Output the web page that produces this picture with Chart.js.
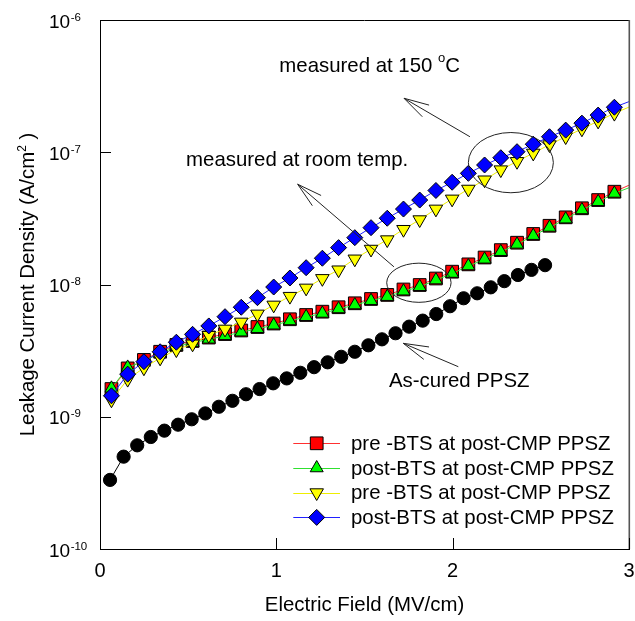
<!DOCTYPE html>
<html><head><meta charset="utf-8">
<script src="https://cdn.jsdelivr.net/npm/chart.js@4.4.1/dist/chart.umd.min.js"></script>
<style>html,body{margin:0;padding:0;background:#fff;overflow:hidden}#wrap{width:635px;height:621px}</style>
</head><body><div id="wrap"><canvas id="c" width="635" height="621"></canvas></div>
<script>
// ---------------- data ----------------
const xPostCmp = [0.065, 0.157, 0.249, 0.341, 0.433, 0.525, 0.617, 0.709, 0.801, 0.893, 0.985, 1.077, 1.169, 1.261, 1.353, 1.445, 1.537, 1.629, 1.721, 1.813, 1.905, 1.997, 2.089, 2.181, 2.273, 2.365, 2.457, 2.549, 2.641, 2.733, 2.825, 2.917, 3.009];
const preBtsRT = [1.62e-9, 2.32e-9, 2.69e-9, 3.10e-9, 3.49e-9, 3.74e-9, 3.97e-9, 4.22e-9, 4.49e-9, 4.77e-9, 5.07e-9, 5.46e-9, 5.88e-9, 6.23e-9, 6.73e-9, 7.21e-9, 7.77e-9, 8.34e-9, 9.17e-9, 9.91e-9, 1.11e-8, 1.25e-8, 1.42e-8, 1.60e-8, 1.82e-8, 2.07e-8, 2.41e-8, 2.78e-8, 3.22e-8, 3.77e-8, 4.35e-8, 5.03e-8, 5.70e-8];
const postBtsRT = [1.64e-9, 2.36e-9, 2.64e-9, 3.02e-9, 3.39e-9, 3.63e-9, 3.85e-9, 4.09e-9, 4.36e-9, 4.63e-9, 4.92e-9, 5.30e-9, 5.70e-9, 6.04e-9, 6.53e-9, 6.99e-9, 7.54e-9, 8.09e-9, 8.90e-9, 9.61e-9, 1.08e-8, 1.21e-8, 1.38e-8, 1.55e-8, 1.77e-8, 2.01e-8, 2.34e-8, 2.70e-8, 3.12e-8, 3.66e-8, 4.22e-8, 4.88e-8, 5.45e-8];
const preBts150 = [1.34e-9, 1.92e-9, 2.34e-9, 2.78e-9, 3.21e-9, 3.55e-9, 4.13e-9, 4.60e-9, 5.20e-9, 5.98e-9, 6.99e-9, 8.14e-9, 9.40e-9, 1.11e-8, 1.29e-8, 1.56e-8, 1.85e-8, 2.18e-8, 2.61e-8, 3.09e-8, 3.72e-8, 4.43e-8, 5.26e-8, 6.18e-8, 7.37e-8, 8.52e-8, 9.85e-8, 1.14e-7, 1.31e-7, 1.50e-7, 1.72e-7, 1.97e-7, 2.22e-7];
const postBts150 = [1.44e-9, 2.10e-9, 2.61e-9, 3.10e-9, 3.66e-9, 4.20e-9, 4.86e-9, 5.71e-9, 6.73e-9, 7.95e-9, 9.57e-9, 1.12e-8, 1.34e-8, 1.58e-8, 1.90e-8, 2.26e-8, 2.69e-8, 3.17e-8, 3.72e-8, 4.35e-8, 5.14e-8, 5.93e-8, 6.93e-8, 8.01e-8, 9.09e-8, 1.01e-7, 1.15e-7, 1.31e-7, 1.47e-7, 1.66e-7, 1.91e-7, 2.19e-7, 2.44e-7];
const xAsCured = [0.057, 0.134, 0.211, 0.288, 0.365, 0.443, 0.520, 0.597, 0.674, 0.751, 0.828, 0.905, 0.982, 1.059, 1.136, 1.214, 1.291, 1.368, 1.445, 1.522, 1.599, 1.676, 1.753, 1.830, 1.907, 1.985, 2.062, 2.139, 2.216, 2.293, 2.370, 2.447, 2.524];
const asCured = [3.33e-10, 4.99e-10, 6.08e-10, 7.03e-10, 7.85e-10, 8.71e-10, 9.57e-10, 1.06e-9, 1.19e-9, 1.32e-9, 1.48e-9, 1.62e-9, 1.79e-9, 1.95e-9, 2.15e-9, 2.37e-9, 2.58e-9, 2.84e-9, 3.10e-9, 3.47e-9, 3.85e-9, 4.28e-9, 4.80e-9, 5.33e-9, 5.98e-9, 6.85e-9, 7.87e-9, 8.58e-9, 9.52e-9, 1.06e-8, 1.18e-8, 1.29e-8, 1.40e-8];
const seriesLabels = ['pre -BTS at post-CMP PPSZ', 'post-BTS at post-CMP PPSZ', 'pre -BTS at post-CMP PPSZ', 'post-BTS at post-CMP PPSZ', 'As-cured PPSZ'];
const xTickValues = [0, 1, 2, 3];
const xTickLabels = ['0', '1', '2', '3'];
const yTickValues = [1e-10, 1e-9, 1e-8, 1e-7, 1e-6];
const yTickExponents = ['-10', '-9', '-8', '-7', '-6'];
const xTitle = 'Electric Field (MV/cm)';
const yTitleParts = ['Leakage Current Density (A/cm', '2', ' )'];
// annotations, anchored in data units
const notes = [
  {x: 1.017, y: 4.06e-7, parts: ['measured at 150 ', 'o', 'C']},
  {x: 0.488, y: 7.91e-8, parts: ['measured at room temp.']},
  {x: 1.639, y: 1.69e-9, parts: ['As-cured PPSZ']}
];
const ellipses = [
  {x0: 2.089, x1: 2.571, y0: 4.94e-8, y1: 1.41e-7},
  {x0: 1.626, x1: 1.991, y0: 7.33e-9, y1: 1.45e-8}
];
const arrows = [
  {fx: 2.098, fy: 1.31e-7, tx: 1.724, ty: 2.56e-7},
  {fx: 1.667, fy: 1.36e-8, tx: 1.121, ty: 5.73e-8},
  {fx: 2.032, fy: 2.39e-9, tx: 1.720, ty: 3.59e-9}
];

// ---------------- styling ----------------
const FONT = '"Liberation Sans", Arial, Helvetica, sans-serif';
const TXT = 20.4;
const pts = (xs, ys) => ys.map((v, i) => ({x: xs[i], y: v}));
const hideOutside = r => (ctx => (ctx.raw && ctx.raw.x > 3 ? 0 : r));
function series(label, xs, ys, color, lineColor, style, r, rot, order) {
  return {
    label, data: pts(xs, ys), showLine: true, tension: 0,
    borderColor: lineColor, borderWidth: 1,
    pointStyle: style, pointRadius: hideOutside(r), pointRotation: rot, markerRadius: r,
    pointBackgroundColor: color,
    pointBorderColor: '#000000', pointBorderWidth: 1,
    pointHoverRadius: hideOutside(r), clip: 0, order
  };
}
const datasets = [
  series(seriesLabels[0], xPostCmp, preBtsRT, '#ff0000', '#ff3030', 'rect', 9, 0, 3),
  series(seriesLabels[1], xPostCmp, postBtsRT, '#00ff00', '#30e030', 'triangle', 7.5, 0, 2),
  series(seriesLabels[2], xPostCmp, preBts150, '#ffff00', '#eeee00', 'triangle', 7.8, 180, 1),
  series(seriesLabels[3], xPostCmp, postBts150, '#0000ff', '#2020ff', 'rectRot', 8, 0, 0),
  series(seriesLabels[4], xAsCured, asCured, '#000000', '#000000', 'circle', 6.6, 0, 4)
];

function drawMarker(ctx, ds, x, y) {
  ctx.save();
  ctx.fillStyle = ds.pointBackgroundColor; ctx.strokeStyle = ds.pointBorderColor; ctx.lineWidth = ds.pointBorderWidth;
  if (Chart.helpers && Chart.helpers.drawPoint) {
    Chart.helpers.drawPoint(ctx, {pointStyle: ds.pointStyle, radius: ds.markerRadius, rotation: ds.pointRotation, borderWidth: 1}, x, y);
  }
  ctx.restore();
}

function drawParts(ctx, parts, x, baseline, big, small, supRaise, sup) {
  let cx = x;
  parts.forEach((p, i) => {
    const isSup = sup(i);
    ctx.font = (isSup ? small : big) + 'px ' + FONT;
    ctx.fillText(p, cx, baseline - (isSup ? supRaise : 0));
    cx += ctx.measureText(p).width;
  });
  return cx - x;
}
function measureParts(ctx, parts, big, small, sup) {
  let w = 0;
  parts.forEach((p, i) => { ctx.font = (sup(i) ? small : big) + 'px ' + FONT; w += ctx.measureText(p).width; });
  return w;
}

const decor = {
  id: 'decor',
  afterDatasetsDraw(chart) {
    const ctx = chart.ctx, xs = chart.scales.x, ys = chart.scales.y;
    ctx.save();
    ctx.fillStyle = '#000'; ctx.textBaseline = 'alphabetic'; ctx.textAlign = 'left';
    notes.forEach(n => {
      drawParts(ctx, n.parts, xs.getPixelForValue(n.x), ys.getPixelForValue(n.y), TXT, 13, 9.5, i => i === 1);
    });
    ctx.strokeStyle = '#222'; ctx.lineWidth = 1;
    ellipses.forEach(e => {
      const a = xs.getPixelForValue(e.x0), b = xs.getPixelForValue(e.x1);
      const c = ys.getPixelForValue(e.y1), d = ys.getPixelForValue(e.y0);
      ctx.beginPath();
      ctx.ellipse((a + b) / 2, (c + d) / 2, (b - a) / 2, (d - c) / 2, 0, 0, Math.PI * 2);
      ctx.stroke();
    });
    arrows.forEach(a => {
      const fx = xs.getPixelForValue(a.fx), fy = ys.getPixelForValue(a.fy);
      const tx = xs.getPixelForValue(a.tx), ty = ys.getPixelForValue(a.ty);
      const ang = Math.atan2(fy - ty, fx - tx), L = 26, h = 15 * Math.PI / 180;
      ctx.beginPath();
      ctx.moveTo(fx, fy); ctx.lineTo(tx, ty);
      ctx.moveTo(tx + L * Math.cos(ang - h), ty + L * Math.sin(ang - h)); ctx.lineTo(tx, ty);
      ctx.lineTo(tx + L * Math.cos(ang + h), ty + L * Math.sin(ang + h));
      ctx.stroke();
    });
    ctx.restore();
  },
  afterDraw(chart) {
    const ctx = chart.ctx, xs = chart.scales.x, ys = chart.scales.y, A = chart.chartArea;
    ctx.save();
    // frame top / right
    ctx.strokeStyle = '#000'; ctx.lineWidth = 1;
    ctx.beginPath(); ctx.moveTo(A.left, Math.round(A.top) + 0.5); ctx.lineTo(A.right, Math.round(A.top) + 0.5); ctx.stroke();
    ctx.strokeStyle = '#555'; ctx.lineWidth = 1.6;
    ctx.beginPath(); ctx.moveTo(A.right + 0.3, A.top); ctx.lineTo(A.right + 0.3, A.bottom); ctx.stroke();
    // inward ticks
    ctx.strokeStyle = '#000'; ctx.lineWidth = 1;
    ctx.beginPath();
    xTickValues.forEach(v => { const p = Math.round(xs.getPixelForValue(v)) + 0.5; ctx.moveTo(p, A.bottom); ctx.lineTo(p, A.bottom - 11); });
    yTickValues.forEach(v => { const p = Math.round(ys.getPixelForValue(v)) + 0.5; ctx.moveTo(A.left, p); ctx.lineTo(A.left + 11, p); });
    ctx.stroke();
    // x tick labels
    ctx.fillStyle = '#000'; ctx.textAlign = 'center'; ctx.textBaseline = 'middle';
    ctx.font = '20px ' + FONT;
    xTickValues.forEach((v, i) => ctx.fillText(xTickLabels[i], xs.getPixelForValue(v), A.bottom + 22));
    // y tick labels 10^n
    ctx.textAlign = 'left'; ctx.textBaseline = 'alphabetic';
    yTickValues.forEach((v, i) => {
      const p = ys.getPixelForValue(v);
      ctx.font = '19px ' + FONT;
      ctx.fillText('10', A.left - 51, p + 7.5);
      const w = ctx.measureText('10').width;
      ctx.font = '11.5px ' + FONT;
      ctx.fillText(yTickExponents[i], A.left - 51 + w + 0.5, p + 0.5);
    });
    // y title
    ctx.save();
    ctx.translate(26.5, (A.top + A.bottom) / 2);
    ctx.rotate(-Math.PI / 2);
    const W = measureParts(ctx, yTitleParts, TXT, 12, i => i === 1);
    drawParts(ctx, yTitleParts, -W / 2, 7, TXT, 12, 8, i => i === 1);
    ctx.restore();
    // legend
    const rowY0 = 443.3, rowStep = 24.7, lx0 = 293.3, lx1 = 340, mx = 316.7, tx = 351;
    chart.data.datasets.slice(0, 4).forEach((ds, i) => {
      const y = rowY0 + i * rowStep;
      ctx.strokeStyle = ds.borderColor; ctx.lineWidth = 1;
      ctx.beginPath(); ctx.moveTo(lx0, Math.round(y) + 0.5); ctx.lineTo(lx1, Math.round(y) + 0.5); ctx.stroke();
      drawMarker(ctx, ds, mx, y);
      ctx.fillStyle = '#000'; ctx.font = TXT + 'px ' + FONT; ctx.textBaseline = 'middle'; ctx.textAlign = 'left';
      ctx.fillText(ds.label, tx, y + 1);
    });
    ctx.restore();
  }
};

new Chart(document.getElementById('c'), {
  type: 'scatter',
  data: {datasets},
  options: {
    responsive: false, animation: false, devicePixelRatio: 1,
    layout: {autoPadding: false, padding: {top: 20, right: 6, left: 0, bottom: 0}},
    plugins: {legend: {display: false}, tooltip: {enabled: false}},
    scales: {
      x: {
        type: 'linear', min: 0, max: 3,
        afterBuildTicks: s => { s.ticks = xTickValues.map(v => ({value: v})); },
        afterFit: s => { s.height = 72; },
        grid: {display: false, drawTicks: false},
        border: {display: true, color: '#000', width: 1},
        ticks: {display: false},
        title: {display: true, text: xTitle, color: '#000', font: {family: FONT, size: TXT}, padding: {top: 0, bottom: 3}}
      },
      y: {
        type: 'logarithmic', min: 1e-10, max: 1e-6,
        afterBuildTicks: s => { s.ticks = yTickValues.map(v => ({value: v})); },
        afterFit: s => { s.width = 100; },
        grid: {display: false, drawTicks: false},
        border: {display: true, color: '#000', width: 1},
        ticks: {display: false}
      }
    }
  },
  plugins: [decor]
});
</script></body></html>
